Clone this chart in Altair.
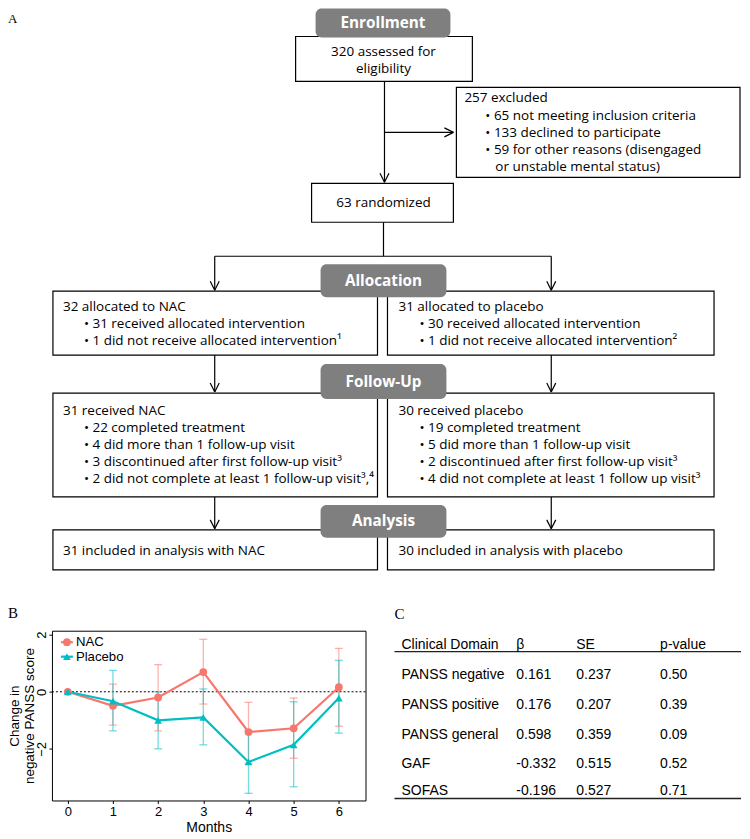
import altair as alt
import pandas as pd

# ---------------- data ----------------
months = [0, 1, 2, 3, 4, 5, 6]
series_names = ["NAC", "Placebo"]
series_colors = ["#F8766D", "#00BFC4"]
series_shapes = ["circle", "triangle-up"]
nac_mean = [0.0, -0.49, -0.20, 0.69, -1.41, -1.28, 0.16]
nac_lo = [0.0, -1.17, -1.37, -0.43, -2.50, -2.33, -1.21]
nac_hi = [0.0, 0.27, 0.95, 1.84, -0.37, -0.22, 1.52]
pla_mean = [0.0, -0.33, -1.00, -0.90, -2.46, -1.86, -0.22]
pla_lo = [0.0, -1.37, -2.00, -1.86, -3.56, -3.33, -1.45]
pla_hi = [0.0, 0.75, 0.00, 0.10, -1.36, -0.35, 1.10]

headers = ["Enrollment", "Allocation", "Follow-Up", "Analysis"]
enroll_lines = ["320 assessed for", "eligibility"]
excluded_title = "257 excluded"
excluded_items = ["65 not meeting inclusion criteria", "133 declined to participate",
                  "59 for other reasons (disengaged"]
excluded_cont = "or unstable mental status)"
randomized = "63 randomized"
alloc_nac = ["32 allocated to NAC", "31 received allocated intervention",
             "1 did not receive allocated intervention\u00b9"]
alloc_pla = ["31 allocated to placebo", "30 received allocated intervention",
             "1 did not receive allocated intervention\u00b2"]
follow_nac = ["31 received NAC", "22 completed treatment", "4 did more than 1 follow-up visit",
              "3 discontinued after first follow-up visit\u00b3",
              "2 did not complete at least 1 follow-up visit\u00b3,\u2074"]
follow_pla = ["30 received placebo", "19 completed treatment", "5 did more than 1 follow-up visit",
              "2 discontinued after first follow-up visit\u00b3",
              "4 did not complete at least 1 follow up visit\u00b3"]
analysis = ["31 included in analysis with NAC", "30 included in analysis with placebo"]

table_cols = ["Clinical Domain", "\u03b2", "SE", "p-value"]
domains = ["PANSS negative", "PANSS positive", "PANSS general", "GAF", "SOFAS"]
beta = ["0.161", "0.176", "0.598", "-0.332", "-0.196"]
se = ["0.237", "0.207", "0.359", "0.515", "0.527"]
pval = ["0.50", "0.39", "0.09", "0.52", "0.71"]

# ---------------- layout (page pixel frame) ----------------
PB_X = [52, 366]     # panel B plot area, page x
PB_Y = [631, 801]    # panel B plot area, page y
W = PB_X[1] - PB_X[0]
H = PB_Y[1] - PB_Y[0]

box_pos = [  # x1, x2, y1, y2
    (296, 473, 36, 81), (457, 741, 87, 177), (312, 454, 183, 222),
    (53, 378, 291, 355), (388, 715, 291, 355),
    (53, 378, 393, 497), (388, 715, 393, 497),
    (53, 378, 530, 570), (388, 715, 530, 570)]
header_pos = [(316, 451, 8, 37), (321, 447, 264, 297), (321, 447, 364, 399), (321, 447, 505, 538)]
line_pos = [(385, 81, 385, 182), (385, 132, 454, 132), (384, 222, 384, 256), (215, 256, 552, 256),
            (215, 256, 215, 290), (552, 256, 552, 290), (215, 355, 215, 392), (552, 355, 552, 392),
            (215, 497, 215, 529), (552, 497, 552, 529)]
arrow_tips = [(385, 182, "d"), (454, 132, "r"), (215, 290, "d"), (552, 290, "d"),
              (215, 392, "d"), (552, 392, "d"), (215, 529, "d"), (552, 529, "d")]
legend_pos = [(67, 642.5), (67, 657)]  # symbol centres

# ---------------- build tables ----------------
boxes_df = pd.DataFrame(box_pos, columns=["x", "x2", "y", "y2"])
hdr_df = pd.DataFrame(header_pos, columns=["x", "x2", "y", "y2"])
hdr_df["t"] = headers
hdr_df["cx"] = (hdr_df.x + hdr_df.x2) / 2
hdr_df["cy"] = (hdr_df.y + hdr_df.y2) / 2

segs = list(line_pos)
AL, AW = 9, 4.5
for (tx, ty, d) in arrow_tips:
    if d == "d":
        segs += [(tx - AW, ty - AL, tx, ty), (tx + AW, ty - AL, tx, ty)]
    else:
        segs += [(tx - AL, ty - AW, tx, ty), (tx - AL, ty + AW, tx, ty)]
lines_df = pd.DataFrame(segs, columns=["x", "y", "x2", "y2"])

B = "\u2022 "
center_txt = [(384, 52, enroll_lines[0]), (384, 69, enroll_lines[1]), (384, 203, randomized)]
left_txt = [(465, 98, excluded_title)]
left_txt += [(486, y, B + s) for y, s in zip([116, 133, 150], excluded_items)]
left_txt += [(496, 167, excluded_cont)]
for x0, lst in [(63, alloc_nac), (399, alloc_pla)]:
    left_txt.append((x0, 307, lst[0]))
    left_txt += [(x0 + 21, y, B + s) for y, s in zip([324, 341], lst[1:])]
for x0, lst in [(63, follow_nac), (399, follow_pla)]:
    left_txt.append((x0, 411, lst[0]))
    left_txt += [(x0 + 21, y, B + s) for y, s in zip([428, 445, 462, 479], lst[1:])]
left_txt += [(63, 551, analysis[0]), (399, 551, analysis[1])]
center_df = pd.DataFrame(center_txt, columns=["x", "y", "t"])
left_df = pd.DataFrame(left_txt, columns=["x", "y", "t"])

letters_df = pd.DataFrame([(8, 18, "A", 13), (8, 613, "B", 15), (395, 614, "C", 15)],
                          columns=["x", "y", "t", "s"])

col_x = [402, 517, 577, 661]
row_y = [675, 705, 735, 764, 792]
tab = [(cx, 645, c) for cx, c in zip(col_x, table_cols)]
for i in range(len(domains)):
    for cx, v in zip(col_x, [domains[i], beta[i], se[i], pval[i]]):
        tab.append((cx, row_y[i], v))
tab_df = pd.DataFrame(tab, columns=["x", "y", "t"])
tab_lines_df = pd.DataFrame([(395, 652, 742, 652), (395, 799, 742, 799)], columns=["x", "y", "x2", "y2"])

leg_df = pd.DataFrame({"series": series_names,
                       "x": [p[0] for p in legend_pos], "y": [p[1] for p in legend_pos]})
leg_df["xa"] = leg_df.x - 6
leg_df["xb"] = leg_df.x + 6
leg_df["xt"] = leg_df.x + 9

# ---------------- pixel-frame layers ----------------
px_x = alt.Scale(domain=PB_X, nice=False, zero=False)
px_y = alt.Scale(domain=PB_Y, nice=False, zero=False, reverse=True)


def PX(f):
    return alt.X(f"{f}:Q", scale=px_x, axis=None)


def PY(f):
    return alt.Y(f"{f}:Q", scale=px_y, axis=None)


FLOW_FONT = "Open Sans"
TAB_FONT = "Liberation Sans"
cscale = alt.Scale(domain=series_names, range=series_colors)
sscale = alt.Scale(domain=series_names, range=series_shapes)

lines = alt.Chart(lines_df).mark_rule(color="black", strokeWidth=1.2).encode(
    x=PX("x"), y=PY("y"), x2=alt.X2("x2:Q"), y2=alt.Y2("y2:Q"))
boxes = alt.Chart(boxes_df).mark_rect(fill="white", stroke="black", strokeWidth=1.2).encode(
    x=PX("x"), x2=alt.X2("x2:Q"), y=PY("y"), y2=alt.Y2("y2:Q"))
hdr_rect = alt.Chart(hdr_df).mark_rect(fill="#7f7f7f", cornerRadius=6).encode(
    x=PX("x"), x2=alt.X2("x2:Q"), y=PY("y"), y2=alt.Y2("y2:Q"))
hdr_text = alt.Chart(hdr_df).mark_text(font=FLOW_FONT, fontSize=15.3, fontWeight="bold", color="white",
                                       align="center", baseline="middle").encode(
    x=PX("cx"), y=PY("cy"), text="t:N")
ctext = alt.Chart(center_df).mark_text(font=FLOW_FONT, fontSize=13.5, color="black",
                                       align="center", baseline="middle").encode(
    x=PX("x"), y=PY("y"), text="t:N")
ltext = alt.Chart(left_df).mark_text(font=FLOW_FONT, fontSize=13.5, color="black",
                                     align="left", baseline="middle").encode(
    x=PX("x"), y=PY("y"), text="t:N")
letters = alt.Chart(letters_df).mark_text(font="Liberation Serif", color="black",
                                          align="left", baseline="middle").encode(
    x=PX("x"), y=PY("y"), text="t:N", size=alt.Size("s:Q", scale=None, legend=None))
tab_text = alt.Chart(tab_df).mark_text(font=TAB_FONT, fontSize=14, color="black",
                                       align="left", baseline="middle").encode(
    x=PX("x"), y=PY("y"), text="t:N")
tab_lines = alt.Chart(tab_lines_df).mark_rule(color="#222222", strokeWidth=1.3).encode(
    x=PX("x"), y=PY("y"), x2=alt.X2("x2:Q"), y2=alt.Y2("y2:Q"))

leg_line = alt.Chart(leg_df).mark_rule(strokeWidth=2.2).encode(
    x=PX("xa"), x2=alt.X2("xb:Q"), y=PY("y"),
    color=alt.Color("series:N", scale=cscale, legend=None))
leg_pts = alt.Chart(leg_df).mark_point(filled=True, size=60, opacity=1).encode(
    x=PX("x"), y=PY("y"),
    color=alt.Color("series:N", scale=cscale, legend=None),
    shape=alt.Shape("series:N", scale=sscale, legend=None))
leg_txt = alt.Chart(leg_df).mark_text(font=TAB_FONT, fontSize=13.2, color="black",
                                      align="left", baseline="middle").encode(
    x=PX("xt"), y=PY("y"), text="series:N")

px_group = alt.layer(lines, boxes, hdr_rect, hdr_text, ctext, ltext, letters, tab_lines, tab_text,
                     leg_line, leg_pts, leg_txt)

# ---------------- panel B data layers ----------------
rows = []
for name, mean, lo, hi in [("NAC", nac_mean, nac_lo, nac_hi), ("Placebo", pla_mean, pla_lo, pla_hi)]:
    for m, a, l, h in zip(months, mean, lo, hi):
        rows.append({"series": name, "month": m, "mean": a, "lo": l, "hi": h})
df = pd.DataFrame(rows)

xs = alt.Scale(domain=[-0.35, 6.59], nice=False, zero=False)
ys = alt.Scale(domain=[-3.81, 2.14], nice=False, zero=False)
xaxis = alt.Axis(orient="bottom", values=months, title="Months", grid=False, domain=False,
                 labelFontSize=13, titleFontSize=14, tickSize=3, labelPadding=2,
                 titleFontWeight="normal", titleY=31, titleBaseline="alphabetic",
                 labelFont=TAB_FONT, titleFont=TAB_FONT, tickColor="black",
                 labelColor="black", titleColor="black")
yaxis = alt.Axis(orient="left", values=[-2, 0, 2], title=["Change in", "negative PANSS score"],
                 grid=False, domain=False, labelFontSize=13, titleFontSize=13.5, tickSize=3,
                 labelPadding=7, labelAngle=270, labelAlign="center", labelBaseline="middle",
                 titleAngle=270, titleX=-44, titleY=H / 2, titleAlign="center", titleBaseline="top",
                 titleLineHeight=15, titleFontWeight="normal", labelFont=TAB_FONT,
                 titleFont=TAB_FONT, tickColor="black", labelColor="black", titleColor="black")

X = alt.X("month:Q", scale=xs, axis=xaxis)
col = alt.Color("series:N", scale=cscale, legend=None)

zero = alt.Chart(pd.DataFrame({"z": [0]})).mark_rule(
    color="black", strokeDash=[2, 2], strokeWidth=1).encode(y=alt.Y("z:Q", scale=ys, axis=yaxis))
err_base = alt.Chart(df).transform_filter("datum.hi > datum.lo")
bars = err_base.mark_rule(strokeWidth=1.3, opacity=0.55).encode(
    x=X, y=alt.Y("lo:Q", scale=ys, axis=yaxis), y2=alt.Y2("hi:Q"), color=col)
cap_lo = err_base.mark_tick(orient="horizontal", size=8, thickness=1.3, opacity=0.55).encode(
    x=X, y=alt.Y("lo:Q", scale=ys, axis=yaxis), color=col)
cap_hi = err_base.mark_tick(orient="horizontal", size=8, thickness=1.3, opacity=0.55).encode(
    x=X, y=alt.Y("hi:Q", scale=ys, axis=yaxis), color=col)
line = alt.Chart(df).mark_line(strokeWidth=2.2).encode(
    x=X, y=alt.Y("mean:Q", scale=ys, axis=yaxis), color=col)
points = alt.Chart(df).mark_point(filled=True, size=60, opacity=1).encode(
    x=X, y=alt.Y("mean:Q", scale=ys, axis=yaxis), color=col,
    shape=alt.Shape("series:N", scale=sscale, legend=None))

data_group = alt.layer(zero, bars, cap_lo, cap_hi, line, points)

chart = alt.layer(px_group, data_group).resolve_scale(
    x="independent", y="independent", color="independent", shape="independent"
).properties(width=W, height=H, padding=0, background="white").configure_view(
    stroke="black", strokeWidth=1)

chart.save("out.html", embed_options={"renderer": "svg", "actions": False})
